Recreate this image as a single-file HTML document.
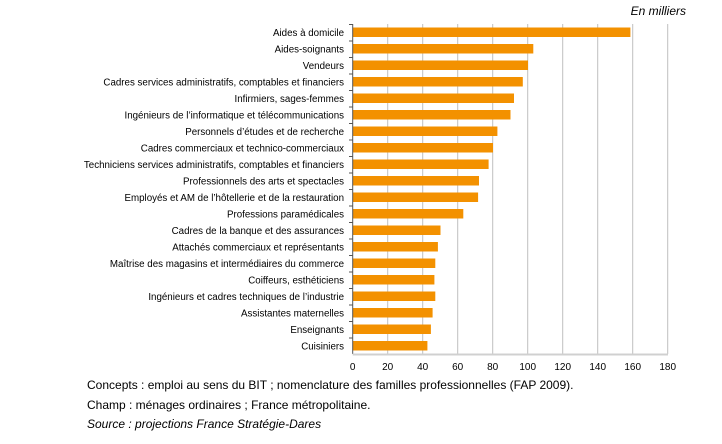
<!DOCTYPE html>
<html><head><meta charset="utf-8"><style>
html,body{margin:0;padding:0;background:#fff;}
svg{display:block;font-family:"Liberation Sans",Arial,sans-serif;}
</style></head><body>
<svg width="722" height="444" viewBox="0 0 722 444" xmlns="http://www.w3.org/2000/svg">
<text x="686" y="15" font-size="12" font-style="italic" text-anchor="end" fill="#000">En milliers</text>
<g stroke="#c0c0c0" stroke-width="1">
<line x1="387.7" y1="24" x2="387.7" y2="354"/>
<line x1="422.7" y1="24" x2="422.7" y2="354"/>
<line x1="457.7" y1="24" x2="457.7" y2="354"/>
<line x1="492.7" y1="24" x2="492.7" y2="354"/>
<line x1="527.7" y1="24" x2="527.7" y2="354"/>
<line x1="562.7" y1="24" x2="562.7" y2="354"/>
<line x1="597.7" y1="24" x2="597.7" y2="354"/>
<line x1="632.7" y1="24" x2="632.7" y2="354"/>
<line x1="667.7" y1="24" x2="667.7" y2="354"/>
</g>
<g fill="#f39100">
<rect x="353" y="27.5" width="277.4" height="9.5"/>
<rect x="353" y="44" width="180.3" height="9.5"/>
<rect x="353" y="60.5" width="175" height="9.5"/>
<rect x="353" y="77" width="169.8" height="9.5"/>
<rect x="353" y="93.5" width="161" height="9.5"/>
<rect x="353" y="110" width="157.5" height="9.5"/>
<rect x="353" y="126.5" width="144.4" height="9.5"/>
<rect x="353" y="143" width="140" height="9.5"/>
<rect x="353" y="159.5" width="135.6" height="9.5"/>
<rect x="353" y="176" width="126" height="9.5"/>
<rect x="353" y="192.5" width="125.1" height="9.5"/>
<rect x="353" y="209" width="110.3" height="9.5"/>
<rect x="353" y="225.5" width="87.5" height="9.5"/>
<rect x="353" y="242" width="84.9" height="9.5"/>
<rect x="353" y="258.5" width="82.3" height="9.5"/>
<rect x="353" y="275" width="81.4" height="9.5"/>
<rect x="353" y="291.5" width="82.3" height="9.5"/>
<rect x="353" y="308" width="79.6" height="9.5"/>
<rect x="353" y="324.5" width="77.9" height="9.5"/>
<rect x="353" y="341" width="74.4" height="9.5"/>
</g>
<g font-size="9.75" text-anchor="end" fill="#000">
<text x="344" y="36">Aides à domicile</text>
<text x="344" y="52.5">Aides-soignants</text>
<text x="344" y="69">Vendeurs</text>
<text x="344" y="85.5">Cadres services administratifs, comptables et financiers</text>
<text x="344" y="102">Infirmiers, sages-femmes</text>
<text x="344" y="118.5">Ingénieurs de l’informatique et télécommunications</text>
<text x="344" y="135">Personnels d’études et de recherche</text>
<text x="344" y="151.5">Cadres commerciaux et technico-commerciaux</text>
<text x="344" y="168">Techniciens services administratifs, comptables et financiers</text>
<text x="344" y="184.5">Professionnels des arts et spectacles</text>
<text x="344" y="201">Employés et AM de l’hôtellerie et de la restauration</text>
<text x="344" y="217.5">Professions paramédicales</text>
<text x="344" y="234">Cadres de la banque et des assurances</text>
<text x="344" y="250.5">Attachés commerciaux et représentants</text>
<text x="344" y="267">Maîtrise des magasins et intermédiaires du commerce</text>
<text x="344" y="283.5">Coiffeurs, esthéticiens</text>
<text x="344" y="300">Ingénieurs et cadres techniques de l’industrie</text>
<text x="344" y="316.5">Assistantes maternelles</text>
<text x="344" y="333">Enseignants</text>
<text x="344" y="349.5">Cuisiniers</text>
</g>
<line x1="352.7" y1="24" x2="352.7" y2="354" stroke="#555" stroke-width="1"/>
<line x1="352.7" y1="354.5" x2="668" y2="354.5" stroke="#d0d0d0" stroke-width="2"/>
<g stroke="#555">
<line x1="349" x2="353" y1="24.5" y2="24.5"/><line x1="349" x2="353" y1="41" y2="41"/><line x1="349" x2="353" y1="57.5" y2="57.5"/><line x1="349" x2="353" y1="74" y2="74"/><line x1="349" x2="353" y1="90.5" y2="90.5"/><line x1="349" x2="353" y1="107" y2="107"/><line x1="349" x2="353" y1="123.5" y2="123.5"/><line x1="349" x2="353" y1="140" y2="140"/><line x1="349" x2="353" y1="156.5" y2="156.5"/><line x1="349" x2="353" y1="173" y2="173"/><line x1="349" x2="353" y1="189.5" y2="189.5"/><line x1="349" x2="353" y1="206" y2="206"/><line x1="349" x2="353" y1="222.5" y2="222.5"/><line x1="349" x2="353" y1="239" y2="239"/><line x1="349" x2="353" y1="255.5" y2="255.5"/><line x1="349" x2="353" y1="272" y2="272"/><line x1="349" x2="353" y1="288.5" y2="288.5"/><line x1="349" x2="353" y1="305" y2="305"/><line x1="349" x2="353" y1="321.5" y2="321.5"/><line x1="349" x2="353" y1="338" y2="338"/>
</g>
<g font-size="10" text-anchor="middle" fill="#000">
<text x="352.7" y="370">0</text><text x="387.7" y="370">20</text><text x="422.7" y="370">40</text><text x="457.7" y="370">60</text><text x="492.7" y="370">80</text><text x="527.7" y="370">100</text><text x="562.7" y="370">120</text><text x="597.7" y="370">140</text><text x="632.7" y="370">160</text><text x="667.7" y="370">180</text>
</g>
<g font-size="12" fill="#000">
<text x="87" y="389">Concepts : emploi au sens du BIT ; nomenclature des familles professionnelles (FAP 2009).</text>
<text x="87" y="409">Champ : ménages ordinaires ; France métropolitaine.</text>
<text x="87" y="428" font-style="italic">Source : projections France Stratégie-Dares</text>
</g>
</svg>
</body></html>
